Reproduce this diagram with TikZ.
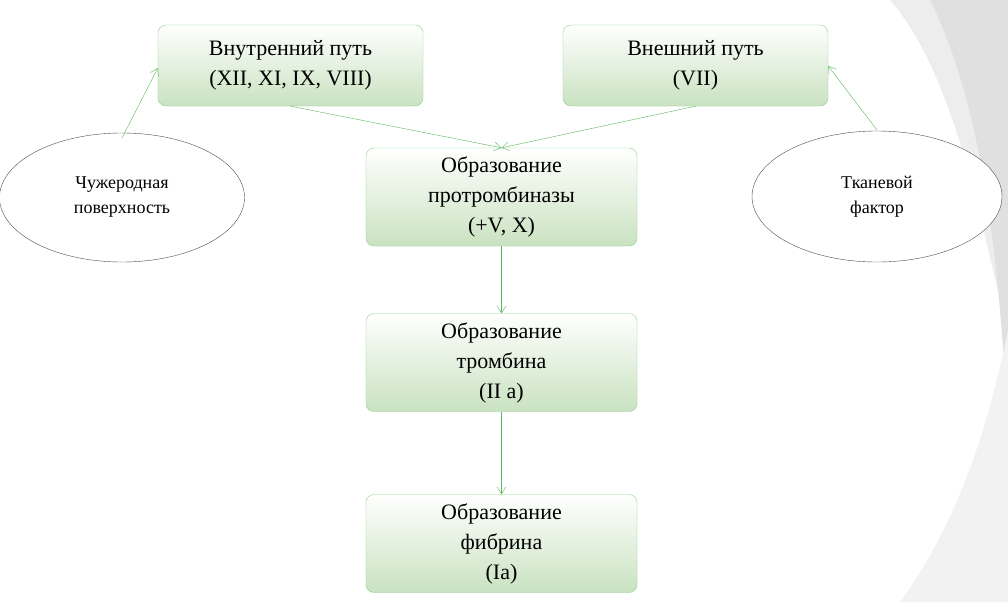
\documentclass[tikz,border=0pt]{standalone}
\usepackage{fontspec}
\setmainfont{Liberation Serif}
\usetikzlibrary{arrows.meta,shapes.geometric}
\definecolor{gborder}{HTML}{8FD18F}
\definecolor{gfill}{HTML}{C9E2C0}
\definecolor{garrow}{HTML}{5CB85C}
\begin{document}
\begin{tikzpicture}[x=1pt,y=-1pt,
  box/.style={draw=gborder,rounded corners=8pt,top color=white,bottom color=gfill,
    minimum width=#1,align=center,font=\fontsize{22}{30}\selectfont,inner sep=0pt},
  ell/.style={draw=black!70,ellipse,fill=white,align=center,font=\fontsize{18}{25}\selectfont,inner sep=0pt},
  arr/.style={draw=garrow,-{Straight Barb[length=7pt,width=9pt]}}]
\useasboundingbox (0,0) rectangle (1008,602);
\fill[white] (0,0) rectangle (1008,602);
\fill[black!7] (890,0) .. controls (960,80) and (985,250) .. (1008,330) -- (1008,0) -- cycle;
\fill[black!12] (930,0) .. controls (990,120) and (1000,300) .. (1008,420) -- (1008,0) -- cycle;
\fill[black!5] (1008,330) .. controls (990,420) and (960,520) .. (900,602) -- (1008,602) -- cycle;
\node[box=265pt,minimum height=81pt] (in) at (290.5,65.5) {Внутренний путь\\(XII, XI, IX, VIII)};
\node[box=265pt,minimum height=81pt] (out) at (695.5,65.5) {Внешний путь\\(VII)};
\node[box=271pt,minimum height=98pt] (pro) at (501.5,197) {Образование\\протромбиназы\\(+V, X)};
\node[box=271pt,minimum height=98pt] (thr) at (501.5,362.5) {Образование\\тромбина\\(II a)};
\node[box=271pt,minimum height=98pt] (fib) at (501.5,543.5) {Образование\\фибрина\\(Iа)};
\node[ell,minimum width=245pt,minimum height=129pt] (l) at (122,197.5) {Чужеродная\\поверхность};
\node[ell,minimum width=250pt,minimum height=131pt] (r) at (877,196.5) {Тканевой\\фактор};
\coordinate (lt) at (122,138);
\coordinate (rt) at (877,130);
\draw[arr] (lt) -- (in.west |- 0,68);
\draw[arr] (rt) -- (out.east |- 0,66);
\draw[arr] (in.south) -- (pro.north);
\draw[arr] (out.south) -- (pro.north);
\draw[arr] (pro.south) -- (thr.north);
\draw[arr] (thr.south) -- (fib.north);
\end{tikzpicture}
\end{document}
